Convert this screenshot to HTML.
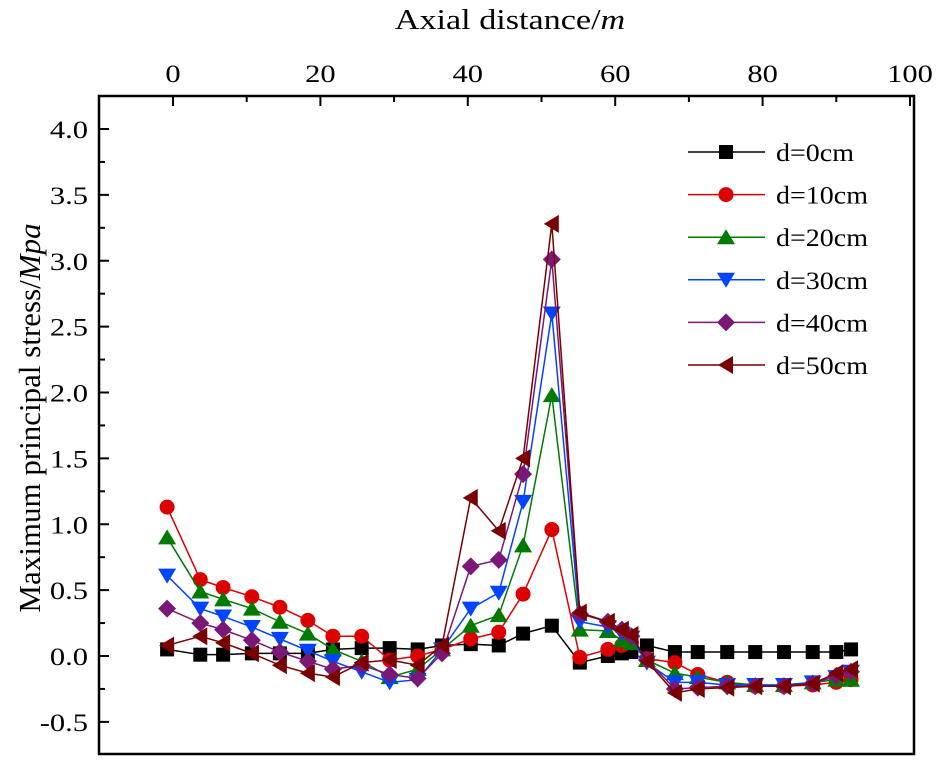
<!DOCTYPE html>
<html><head><meta charset="utf-8"><style>
body{margin:0;background:#fff}
svg{display:block;font-family:"Liberation Serif",serif}
</style></head><body>
<svg id="chart" width="942" height="760" viewBox="0 0 942 760" xmlns="http://www.w3.org/2000/svg">
<g id="axes"></g><g id="series"></g><g id="legend"></g>
</svg>
<script>
const xs=[-0.8,3.7,6.8,10.7,14.5,18.3,21.7,25.6,29.4,33.2,36.5,40.4,44.2,47.5,51.4,55.2,59,60.9,62.2,64.3,68.1,71.2,75.2,79,82.9,86.8,90,92];
const d0=[0.05,0.01,0.01,0.02,0.02,0.02,0.05,0.06,0.06,0.05,0.08,0.09,0.08,0.17,0.23,-0.05,0.0,0.02,0.03,0.08,0.03,0.03,0.03,0.03,0.03,0.03,0.03,0.05];
const d10=[1.13,0.58,0.52,0.45,0.37,0.27,0.15,0.15,-0.03,0.0,0.05,0.13,0.18,0.47,0.96,-0.01,0.05,0.08,0.1,-0.02,-0.05,-0.14,-0.2,-0.23,-0.23,-0.22,-0.2,-0.18];
const d20=[0.9,0.49,0.43,0.36,0.26,0.17,0.05,-0.04,-0.16,-0.1,0.05,0.23,0.31,0.84,1.98,0.2,0.19,0.12,0.1,-0.03,-0.13,-0.16,-0.2,-0.22,-0.22,-0.2,-0.18,-0.18];
const d30=[0.61,0.36,0.3,0.22,0.13,0.04,-0.04,-0.12,-0.2,-0.18,0.05,0.36,0.48,1.17,2.6,0.26,0.22,0.17,0.14,-0.05,-0.2,-0.2,-0.22,-0.22,-0.22,-0.2,-0.16,-0.12];
const d40=[0.36,0.25,0.2,0.12,0.03,-0.04,-0.1,-0.07,-0.14,-0.17,0.02,0.68,0.73,1.38,3.01,0.32,0.26,0.2,0.15,-0.03,-0.25,-0.24,-0.23,-0.23,-0.23,-0.21,-0.15,-0.12];
const d50=[0.08,0.15,0.1,0.02,-0.07,-0.13,-0.16,-0.05,-0.03,-0.07,0.08,1.2,0.95,1.5,3.28,0.33,0.26,0.2,0.16,-0.04,-0.28,-0.25,-0.24,-0.23,-0.23,-0.21,-0.13,-0.1];
const xTicks=[0,20,40,60,80,100];
const yTicks=[-0.5,0.0,0.5,1.0,1.5,2.0,2.5,3.0,3.5,4.0];
const names=["d=0cm","d=10cm","d=20cm","d=30cm","d=40cm","d=50cm"];
const NS="http://www.w3.org/2000/svg";
const L=99,R=914,T=96,B=754;
const X=v=>173+v*7.37;
const Y=v=>656-v*131.75;
function mk(tag,at,parent){const e=document.createElementNS(NS,tag);for(const k in at)e.setAttribute(k,at[k]);parent.appendChild(e);return e;}
function txt(parent,x,y,size,anchor,sx,content){
 const t=mk('text',{x:0,y:0,'text-anchor':anchor,'font-size':size,transform:`translate(${x},${y}) scale(${sx},1)`},parent);
 t.innerHTML=content;return t;
}
const ax=document.getElementById('axes');
const fr=mk('rect',{x:L,y:T,width:R-L,height:B-T,fill:'none',stroke:'#000','stroke-width':2.5},ax);


for(let v=0;v<=100;v+=10){
 const major=v%20===0;
 const t=mk('line',{x1:X(v),x2:X(v),y1:T,y2:T+(major?10:6),stroke:'#000','stroke-width':2},ax);
 
 
}
xTicks.forEach(v=>{const t=txt(ax,X(v),82,25,'middle',1.22,String(v));
 
 });
for(let v=-0.5;v<=4.01;v+=0.25){
 const major=Math.abs(v*2-Math.round(v*2))<1e-6;
 const t=mk('line',{x1:L,x2:L+(major?10:6),y1:Y(v),y2:Y(v),stroke:'#000','stroke-width':2},ax);
 
 
}
yTicks.forEach(v=>{const t=txt(ax,88,Y(v)+9,25,'end',1.22,v.toFixed(1));
 
 });
const xt=txt(ax,510,29,28,'middle',1.22,'Axial distance/<tspan font-style="italic">m</tspan>');


const yt=mk('text',{x:0,y:0,'text-anchor':'middle','font-size':31,transform:'translate(40,418) rotate(-90)'},ax);
yt.innerHTML='Maximum principal stress/<tspan font-style="italic">Mpa</tspan>';


const colors=['#000000','#dd0000','#007a00','#0044ff','#7a1878','#7a0000'];
const shapes=['square','circle','up','down','diamond','left'];
const data=[d0,d10,d20,d30,d40,d50];
function marker(g,s,cx,cy,c){
 const r=8;let e;
 if(s==='square')e=mk('rect',{x:cx-7,y:cy-7,width:14,height:14,fill:c},g);
 else if(s==='circle')e=mk('circle',{cx,cy,r:7.5,fill:c},g);
 else if(s==='up')e=mk('polygon',{points:`${cx},${cy-r} ${cx+r+1},${cy+r-1} ${cx-r-1},${cy+r-1}`,fill:c},g);
 else if(s==='down')e=mk('polygon',{points:`${cx},${cy+r} ${cx+r+1},${cy-r+1} ${cx-r-1},${cy-r+1}`,fill:c},g);
 else if(s==='diamond')e=mk('polygon',{points:`${cx},${cy-r-1} ${cx+r+1},${cy} ${cx},${cy+r+1} ${cx-r-1},${cy}`,fill:c},g);
 else e=mk('polygon',{points:`${cx-r},${cy} ${cx+r-1},${cy-r-1} ${cx+r-1},${cy+r+1}`,fill:c},g);
 return e;
}
const sg=document.getElementById('series');
data.forEach((arr,i)=>{
 const g=mk('g',{},sg);
 
 
 const pts=arr.map((v,j)=>X(xs[j])+','+Y(v)).join(' ');
 const pl=mk('polyline',{points:pts,fill:'none',stroke:colors[i],'stroke-width':1.5},g);
 
 
 arr.forEach((v,j)=>{const m=marker(g,shapes[i],X(xs[j]),Y(v),colors[i]);
  
  });
});
const lg=document.getElementById('legend');
names.forEach((n,i)=>{
 const y=152+i*42.6;
 const g=mk('g',{},lg);
 
 
 mk('line',{x1:688,x2:765,y1:y,y2:y,stroke:colors[i],'stroke-width':1.5},g);
 marker(g,shapes[i],726,y,colors[i]);
 txt(g,776,y+9,25,'start',1.12,n);
});
</script>
</body></html>
